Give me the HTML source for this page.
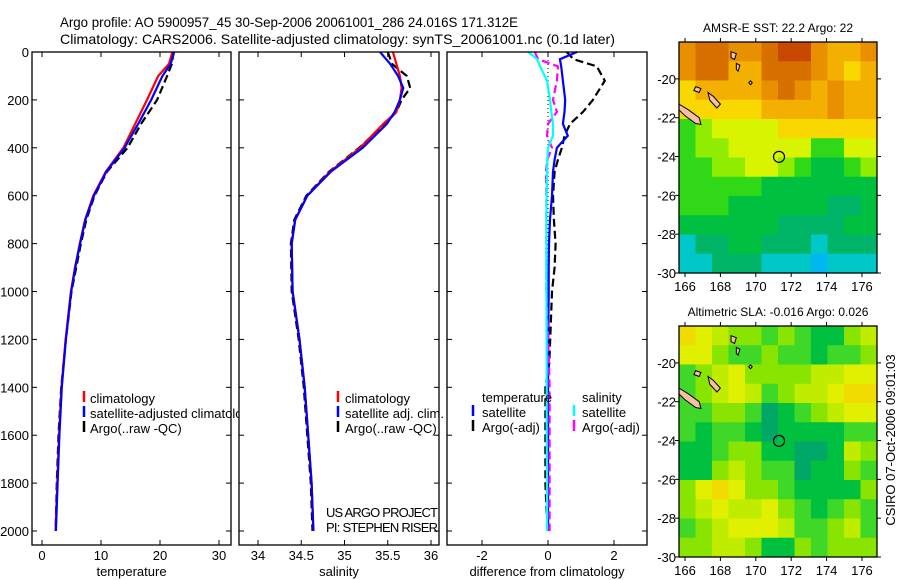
<!DOCTYPE html>
<html><head><meta charset="utf-8"><style>
html,body{margin:0;padding:0;background:#fff}
svg{display:block;font-family:"Liberation Sans",sans-serif}
</style></head><body>
<svg id="fig" width="900" height="580" viewBox="0 0 900 580" xmlns="http://www.w3.org/2000/svg">
<text x="60" y="27" font-size="14" textLength="458" lengthAdjust="spacingAndGlyphs">Argo profile: AO 5900957_45 30-Sep-2006 20061001_286 24.016S 171.312E</text>
<text x="60" y="44" font-size="14" textLength="555" lengthAdjust="spacingAndGlyphs">Climatology: CARS2006. Satellite-adjusted climatology: synTS_20061001.nc (0.1d later)</text>
<g id="g"></g>
<text transform="translate(895,440) rotate(-90)" text-anchor="middle" font-size="13">CSIRO 07-Oct-2006 09:01:03</text>
</svg>
<script>
// ---- profile data (depth in m) ----
const depthT = [0,50,100,200,300,400,500,600,700,800,900,1000,1200,1400,1600,1800,2000];
const tempClim = [22.1,21.5,19.7,17.8,15.8,13.8,10.8,8.7,7.3,6.4,5.6,4.9,4.0,3.3,2.9,2.6,2.3];
const tempSat  = [22.4,21.8,20.4,18.5,16.3,14.0,10.9,8.8,7.35,6.45,5.65,4.95,4.05,3.35,2.95,2.65,2.35];
const tempArgo = [22.3,22.0,21.2,19.5,16.8,14.5,11.0,8.9,7.5,6.6,5.8,5.0,4.05,3.25,2.8,2.5,2.3];
const depthS = [0,50,100,150,200,250,300,400,500,600,700,800,1000,1200,1400,1600,1800,2000];
const salClim = [35.56,35.60,35.64,35.66,35.64,35.60,35.45,35.18,34.83,34.57,34.43,34.39,34.40,34.48,34.54,34.58,34.62,34.64];
const salSat  = [35.41,35.53,35.62,35.68,35.64,35.58,35.49,35.21,34.84,34.57,34.43,34.39,34.40,34.48,34.54,34.58,34.62,34.64];
const salArgo = [35.50,35.55,35.72,35.76,35.66,35.60,35.47,35.17,34.82,34.56,34.42,34.38,34.39,34.47,34.53,34.57,34.61,34.63];
const depthD = [0,30,60,120,200,250,300,350,400,450,500,600,700,800,900,1000,1300,1400,1600,1800,1900,2000];
const dTsat  = [0.88,0.36,0.40,0.45,0.52,0.50,0.45,0.60,0.27,0.20,0.15,0.12,0.06,0.03,0.02,0.02,0.0,0.0,0.0,0.0,0.0,0.0];
const dTargo = [0.57,0.77,1.48,1.72,1.36,1.06,0.67,0.50,0.42,0.30,0.20,0.15,0.18,0.23,0.20,0.12,0.04,-0.08,-0.08,-0.08,-0.05,0.0];
const dSsat  = [-0.6,-0.33,-0.24,-0.03,0.06,0.10,0.15,0.15,0.0,-0.02,-0.03,-0.04,-0.05,-0.05,-0.05,-0.05,-0.04,-0.04,-0.04,-0.03,-0.03,-0.03];
const dSargo = [-0.4,-0.3,0.3,0.27,0.15,0.27,0.0,-0.03,0.12,-0.02,-0.06,-0.05,-0.05,-0.05,-0.05,-0.05,0.03,0.05,0.05,0.05,0.05,0.05];
const depthTicks = [0,200,400,600,800,1000,1200,1400,1600,1800,2000];
const tempTicks = [0,10,20,30];
const salTicks = [34,34.5,35,35.5,36];
const diffTicks = [-2,0,2];
// ---- map data (rows from north to south, 1-deg-ish cells) ----
const sstGrid = [
[7,8,8,7,7,8,9,9,7,6,6,7],[7,8,8,6,6,8,8,8,7,6,5,6],[5,6,6,6,6,7,8,7,6,7,6,6],
[5,5,5,5,5,6,6,6,6,7,6,6],[2,3,4,4,4,4,5,5,5,5,5,5],[2,3,3,4,4,4,4,4,2,2,4,4],
[2,2,3,3,4,4,3,2,1,1,2,3],[2,2,2,2,2,1,1,1,1,1,1,1],[2,2,2,1,1,1,1,1,1,0,0,1],
[1,1,1,1,1,1,0,0,0,0,1,1],[-1,0,0,1,1,0,0,0,-1,0,0,0],[-1,-1,0,0,0,-1,-1,-1,-2,-1,-1,-1]];
const slaGrid = [
[6,5,4,3,3,2,3,2,1,1,3,4],[5,5,3,2,2,3,2,2,1,2,2,3],[2,3,4,5,3,3,3,3,4,4,5,5],
[2,3,4,5,4,2,3,4,4,5,6,6],[2,2,3,3,2,0,1,2,3,4,5,5],[2,1,2,2,1,0,1,1,1,1,2,2],
[1,1,2,3,3,1,1,0,0,1,4,3],[1,1,3,4,3,2,2,0,1,1,3,2],[3,5,6,5,3,3,2,1,1,1,1,3],
[3,4,5,4,4,5,3,2,1,2,3,2],[2,3,4,5,5,5,4,2,2,3,4,2],[3,3,4,4,3,1,1,3,2,3,3,3]];
const lonTicks = [166,168,170,172,174,176];
const latTicks = [-20,-22,-24,-26,-28,-30];
const argoLon = 171.312, argoLat = -24.016;

const NS="http://www.w3.org/2000/svg", G=document.getElementById('g');
function el(t,a,p){const e=document.createElementNS(NS,t);for(const k in a)e.setAttribute(k,a[k]);(p||G).appendChild(e);return e;}
const yD = d => 52 + d*0.2395;
function panel(name,x0,x1){
  const g=el('g',{});
  
  
  el('rect',{x:x0,y:52,width:x1-x0,height:493,fill:'#fff',stroke:'none'},g);
  return g;
}
function frame(g,x0,x1,xs,ticks,label,showY,name){
  el('rect',{x:x0,y:52,width:x1-x0,height:493,fill:'none',stroke:'#000','stroke-width':1.3},g);
  depthTicks.forEach(d=>{const y=yD(d);
    el('line',{x1:x0,x2:x0+5,y1:y,y2:y,stroke:'#000'},g);el('line',{x1:x1-5,x2:x1,y1:y,y2:y,stroke:'#000'},g);
    if(showY){const t=el('text',{x:x0-3,y:y+5,'text-anchor':'end','font-size':13},g);t.textContent=d;
      
      }
  });
  ticks.forEach(v=>{const x=xs(v);
    el('line',{x1:x,x2:x,y1:52,y2:57,stroke:'#000'},g);el('line',{x1:x,x2:x,y1:540,y2:545,stroke:'#000'},g);
    const t=el('text',{x:x,y:560,'text-anchor':'middle','font-size':13},g);t.textContent=v;
    
    
  });
  const l=el('text',{x:(x0+x1)/2,y:576,'text-anchor':'middle','font-size':13},g);l.textContent=label;
  
  
}
function line(g,xs,vals,deps,color,dash,name){
  const pts=vals.map((v,i)=>xs(v).toFixed(1)+','+yD(deps[i]).toFixed(1)).join(' ');
  const p=el('polyline',{points:pts,fill:'none',stroke:color,'stroke-width':2.2,'stroke-dasharray':dash||'none'},g);
  
  
}
function txt(g,x,y,s,name,size){const t=el('text',{x:x,y:y,'font-size':size||13},g);t.textContent=s;
  return t;}
function bar(g,x,y,c){el('line',{x1:x,x2:x,y1:y-12,y2:y-1,stroke:c,'stroke-width':2.5},g);}

// panel 1
const xT = v => 42 + v*5.9;
const p1=panel('temperature-panel',32,231);
line(p1,xT,tempArgo,depthT,'#000','8,4','temp-argo-line');
line(p1,xT,tempClim,depthT,'#f00',null,'temp-climatology-line');
line(p1,xT,tempSat,depthT,'#00f',null,'temp-satellite-line');
bar(p1,84,403,'#f00');txt(p1,90,403,'climatology','legend-climatology');
bar(p1,84,418,'#00f');txt(p1,90,418,'satellite-adjusted climatology','legend-satellite-adjusted');
bar(p1,84,433,'#000');txt(p1,90,433,'Argo(..raw -QC)','legend-argo');
frame(p1,32,231,xT,tempTicks,'temperature',true,'temperature');
// panel 2
const xS = v => 258 + (v-34)*86.5;
const p2=panel('salinity-panel',239,439);
line(p2,xS,salArgo,depthS,'#000','8,4','sal-argo-line');
line(p2,xS,salClim,depthS,'#f00',null,'sal-climatology-line');
line(p2,xS,salSat,depthS,'#00f',null,'sal-satellite-line');
bar(p2,338,403,'#f00');txt(p2,345,403,'climatology','legend2-climatology');
bar(p2,338,418,'#00f');txt(p2,345,418,'satellite adj. clim.','legend2-satellite');
bar(p2,338,433,'#000');txt(p2,345,433,'Argo(..raw -QC)','legend2-argo');
txt(p2,326,517,'US ARGO PROJECT','project-credit').setAttribute('textLength','112');
txt(p2,326,532,'PI: STEPHEN RISER','pi-credit').setAttribute('textLength','112');
frame(p2,239,439,xS,salTicks,'salinity',false,'salinity');
// panel 3
const xDf = v => 548 + v*33;
const p3=panel('difference-panel',447,647);
el('line',{x1:xDf(0),x2:xDf(0),y1:52,y2:531,stroke:'#000','stroke-dasharray':'1,3'},p3);
line(p3,xDf,dTargo,depthD,'#000','8,4','diff-temp-argo-line');
line(p3,xDf,dTsat,depthD,'#00f',null,'diff-temp-satellite-line');
line(p3,xDf,dSargo,depthD,'#f0f','8,4','diff-sal-argo-line');
line(p3,xDf,dSsat,depthD,'#0ff',null,'diff-sal-satellite-line');
txt(p3,482,402,'temperature','legend3-temperature-header');
txt(p3,582,402,'salinity','legend3-salinity-header');
bar(p3,473,417,'#00f');txt(p3,482,417,'satellite','legend3-temp-satellite');
bar(p3,473,432,'#000');txt(p3,482,432,'Argo(-adj)','legend3-temp-argo');
bar(p3,574,417,'#0ff');txt(p3,582,417,'satellite','legend3-sal-satellite');
bar(p3,574,432,'#f0f');txt(p3,582,432,'Argo(-adj)','legend3-sal-argo');
frame(p3,447,647,xDf,diffTicks,'difference from climatology',false,'difference');

// maps
const sstPal={'-2':'#00b8f0','-1':'#00c8c8','0':'#00b468','1':'#00c040','2':'#30d818','3':'#90ec00','4':'#d8f400','5':'#f8d800','6':'#f4b000','7':'#e89000','8':'#d87000','9':'#c84800'};
const slaPal={'0':'#00a868','1':'#00c040','2':'#40d828','3':'#88e400','4':'#c0ec00','5':'#e0f000','6':'#f0dc00'};
const lonMin=165.66, lonMax=176.85, latTop=-18.1, latBot=-30;
function map(name,top,grid,pal,title){
  const g=el('g',{});
  
  
  const bot=top+231, xL=679, xR=877;
  const xl=v=>xL+(v-lonMin)*(xR-xL)/(lonMax-lonMin);
  const yl=v=>top+(latTop-v)*(bot-top)/(latTop-latBot);
  const nr=grid.length,nc=grid[0].length,dLon=(lonMax-lonMin)/nc,dLat=(latTop-latBot)/nr;
  grid.forEach((row,j)=>row.forEach((v,i)=>{
    const x=xl(lonMin+i*dLon),y=yl(latTop-j*dLat);
    el('rect',{x:x,y:y,width:xl(lonMin+(i+1)*dLon)-x+0.5,height:yl(latTop-(j+1)*dLat)-y+0.5,fill:pal[v]},g);
  }));
  const isl=[[[165.66,-21.3],[166.2,-21.6],[166.8,-22.0],[166.9,-22.35],[166.6,-22.3],[166.0,-21.9],[165.66,-21.6]],
    [[167.3,-20.7],[167.6,-20.9],[168.0,-21.3],[167.8,-21.5],[167.4,-21.1]],
    [[166.6,-20.4],[166.9,-20.5],[166.8,-20.7],[166.5,-20.6]],
    [[168.6,-18.6],[168.9,-18.7],[168.8,-19.0],[168.6,-18.9]],
    [[168.9,-19.2],[169.1,-19.3],[169.0,-19.6],[168.9,-19.5]],
    [[169.7,-20.1],[169.8,-20.2],[169.7,-20.3],[169.6,-20.2]]];
  isl.forEach(p=>{el('polygon',{points:p.map(q=>xl(q[0])+','+yl(q[1])).join(' '),fill:'#f8c0a0',stroke:'#000','stroke-width':1},g);});
  const c=el('circle',{cx:xl(argoLon),cy:yl(argoLat),r:5.5,fill:'none',stroke:'#000','stroke-width':1.2},g);
  
  
  el('rect',{x:xL,y:top,width:xR-xL,height:bot-top,fill:'none',stroke:'#000','stroke-width':1.3},g);
  lonTicks.forEach(v=>{const x=xl(v);el('line',{x1:x,x2:x,y1:bot,y2:bot+4,stroke:'#000'},g);el('line',{x1:x,x2:x,y1:top-4,y2:top,stroke:'#000'},g);
    const t=el('text',{x:x,y:bot+18,'text-anchor':'middle','font-size':13},g);t.textContent=v;
    });
  latTicks.forEach(v=>{const y=yl(v);el('line',{x1:xL-4,x2:xL,y1:y,y2:y,stroke:'#000'},g);el('line',{x1:xR,x2:xR+4,y1:y,y2:y,stroke:'#000'},g);
    const t=el('text',{x:xL-3,y:y+5,'text-anchor':'end','font-size':13},g);t.textContent=v;
    });
  const t=el('text',{x:(xL+xR)/2,y:top-10,'text-anchor':'middle','font-size':12},g);t.textContent=title;
  
}
map('sst-map',42,sstGrid,sstPal,'AMSR-E SST: 22.2 Argo: 22');
map('sla-map',326,slaGrid,slaPal,'Altimetric SLA: -0.016 Argo: 0.026');
</script>
</body></html>
